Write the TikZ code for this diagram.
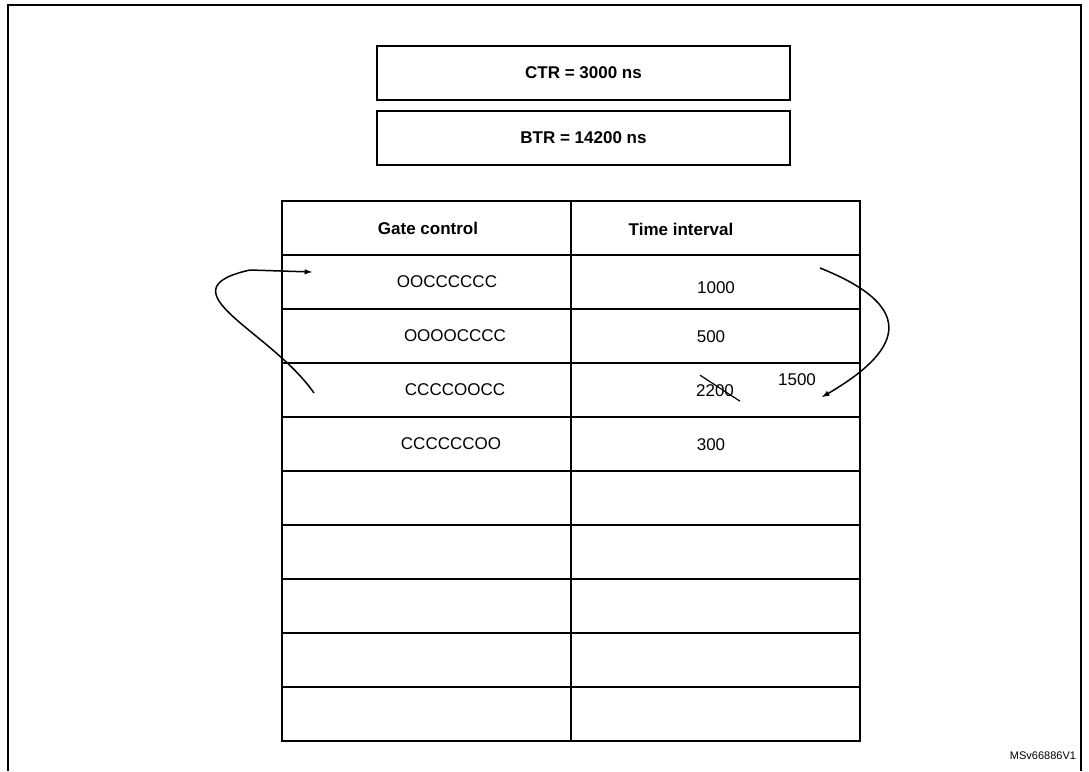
\documentclass[tikz,border=0pt]{standalone}
\usepackage{fontspec}
\setmainfont{Liberation Sans}
\begin{document}
\begin{tikzpicture}[x=1pt,y=-1pt,line width=1.6pt,
  txt/.style={font=\fontsize{17}{20}\selectfont,inner sep=0pt},
  hd/.style={font=\fontsize{17}{20}\selectfont\bfseries,inner sep=0pt},
  arr/.style={line width=1.5pt,-latex}]
\useasboundingbox (0,0) rectangle (1089,771);
\draw (8,771) -- (8,5) -- (1081,5) -- (1081,771);
\node[hd,draw,line width=1.6pt,minimum width=413pt,minimum height=54pt] (ctr) at (583.5,73) {CTR = 3000 ns};
\node[hd,draw,line width=1.6pt,minimum width=413pt,minimum height=54pt] (btr) at (583.5,138) {BTR = 14200 ns};
\draw (282,201) rectangle (860,741);
\draw (571,201) -- (571,741);
\foreach \y in {255,309,363,417,471,525,579,633,687} \draw (282,\y) -- (860,\y);
\node[hd] (h1) at (428,228) {Gate control};
\node[hd] (h2) at (681,229) {Time interval};
\node[txt] (g1) at (447,282) {OOCCCCCC};
\node[txt] (g2) at (455,336) {OOOOCCCC};
\node[txt] (g3) at (455,390) {CCCCOOCC};
\node[txt] (g4) at (451,444) {CCCCCCOO};
\node[txt] (t1) at (716,288) {1000};
\node[txt] (t2) at (711,337) {500};
\node[txt] (t3) at (715,391) {2200};
\node[txt] (t4) at (711,445) {300};
\node[txt] (t5) at (797,380) {1500};
\draw[line width=1.2pt] (t3.north)++(-15,-9) coordinate (s1) -- ++(40,26) coordinate (s2);
\coordinate (la) at (314,393);
\coordinate (lb) at (312,272);
\draw[arr] (la) .. controls (270,330) and (160,290) .. (250,270) -- (lb);
\coordinate (ra) at (820,268);
\coordinate (rb) at (822,397);
\draw[arr] (ra) .. controls (900,300) and (920,340) .. (rb);
\node[font=\fontsize{11}{13}\selectfont,inner sep=0pt] (ms) at (1043,756) {MSv66886V1};
\end{tikzpicture}
\end{document}
